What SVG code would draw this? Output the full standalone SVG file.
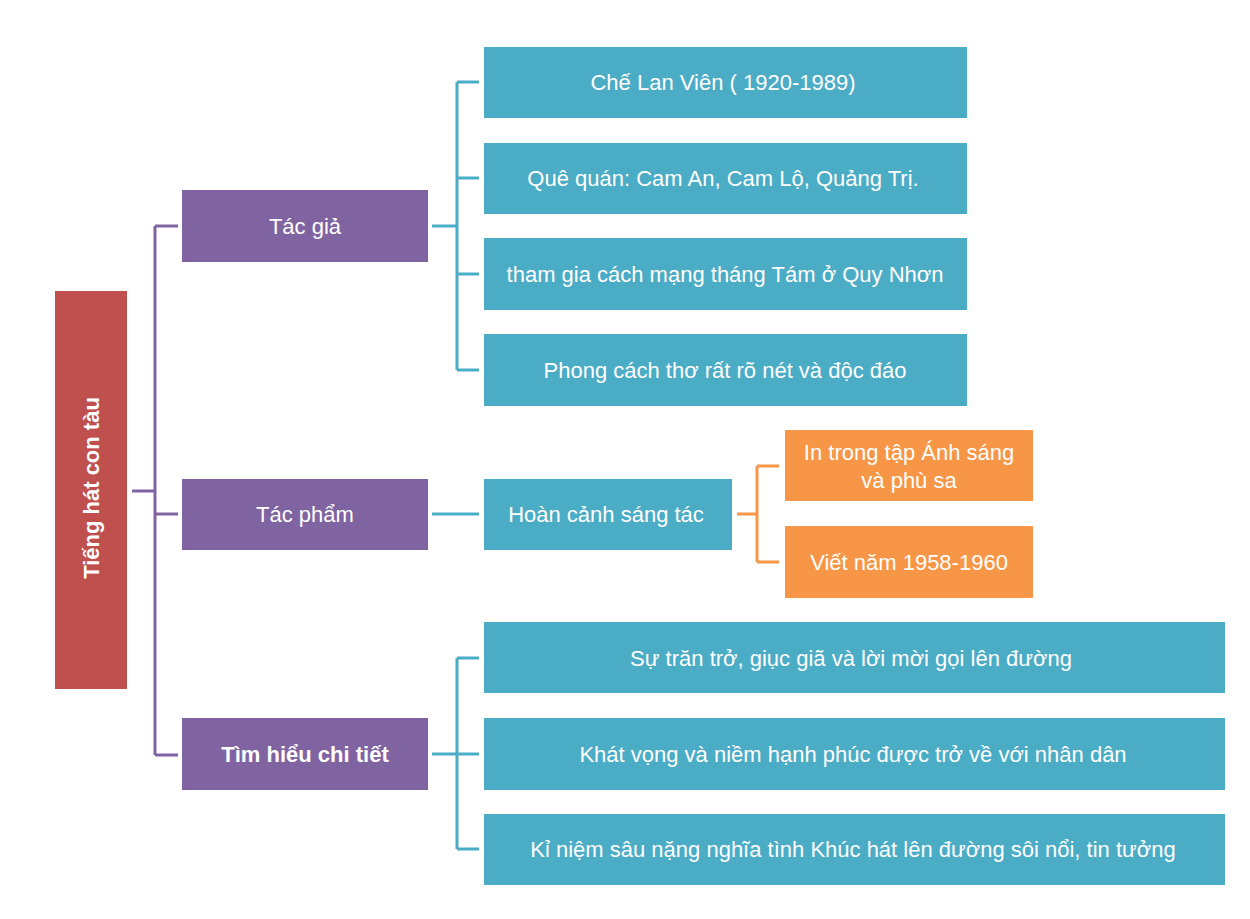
<svg xmlns="http://www.w3.org/2000/svg" width="1250" height="919" viewBox="0 0 1250 919">
<style>
.t{font-family:"Liberation Sans","Noto Sans",Arial,sans-serif;font-size:22px;fill:#ffffff;text-anchor:middle;dominant-baseline:central}
.b{font-weight:bold}
.red{fill:#C0504D}.pur{fill:#8064A2}.teal{fill:#4BACC6}.org{fill:#F79646}
.cp{fill:none;stroke:#8064A2;stroke-width:3}
.ct{fill:none;stroke:#4BACC6;stroke-width:3}
.co{fill:none;stroke:#F79646;stroke-width:3}
</style>
<rect width="1250" height="919" fill="#ffffff"/>
<g id="connectors">
<path class="cp" d="M132 491H155M155 226V755M155 226H178M155 514H178M155 755H178"/>
<path class="ct" d="M432 226H457M457 82V370M457 82H479M457 178H479M457 274H479M457 370H479"/>
<path class="ct" d="M432 514H479"/>
<path class="ct" d="M432 754H479M457 658V849M457 658H479M457 849H479"/>
<path class="co" d="M737 514H757M757 466V562M757 466H779M757 562H779"/>
</g>
<g id="root"><rect class="red" x="55" y="291" width="72" height="398"/><text class="t b" transform="translate(91 488) rotate(-90)">Tiếng hát con tàu</text></g>
<g id="tacgia"><rect class="pur" x="182" y="190" width="246" height="72"/><text class="t" x="305" y="226">Tác giả</text></g>
<g id="tacpham"><rect class="pur" x="182" y="479" width="246" height="71"/><text class="t" x="305" y="514">Tác phẩm</text></g>
<g id="timhieu"><rect class="pur" x="182" y="718" width="246" height="72"/><text class="t b" x="305" y="754">Tìm hiểu chi tiết</text></g>
<g id="n1"><rect class="teal" x="484" y="47" width="483" height="71"/><text class="t" x="723" y="82">Chế Lan Viên ( 1920-1989)</text></g>
<g id="n2"><rect class="teal" x="484" y="143" width="483" height="71"/><text class="t" x="723" y="178">Quê quán: Cam An, Cam Lộ, Quảng Trị.</text></g>
<g id="n3"><rect class="teal" x="484" y="238" width="483" height="72"/><text class="t" x="725" y="274">tham gia cách mạng tháng Tám ở Quy Nhơn</text></g>
<g id="n4"><rect class="teal" x="484" y="334" width="483" height="72"/><text class="t" x="725" y="370">Phong cách thơ rất rõ nét và độc đáo</text></g>
<g id="hoancanh"><rect class="teal" x="484" y="479" width="248" height="71"/><text class="t" x="606" y="514">Hoàn cảnh sáng tác</text></g>
<g id="o1"><rect class="org" x="785" y="430" width="248" height="71"/><text class="t" x="909" y="452">In trong tập Ánh sáng</text><text class="t" x="909" y="480">và phù sa</text></g>
<g id="o2"><rect class="org" x="785" y="526" width="248" height="72"/><text class="t" x="909" y="562">Viết năm 1958-1960</text></g>
<g id="d1"><rect class="teal" x="484" y="622" width="741" height="71"/><text class="t" x="851" y="658">Sự trăn trở, giục giã và lời mời gọi lên đường</text></g>
<g id="d2"><rect class="teal" x="484" y="718" width="741" height="72"/><text class="t" x="853" y="754">Khát vọng và niềm hạnh phúc được trở về với nhân dân</text></g>
<g id="d3"><rect class="teal" x="484" y="814" width="741" height="71"/><text class="t" x="853" y="849">Kỉ niệm sâu nặng nghĩa tình Khúc hát lên đường sôi nổi, tin tưởng</text></g>
</svg>
